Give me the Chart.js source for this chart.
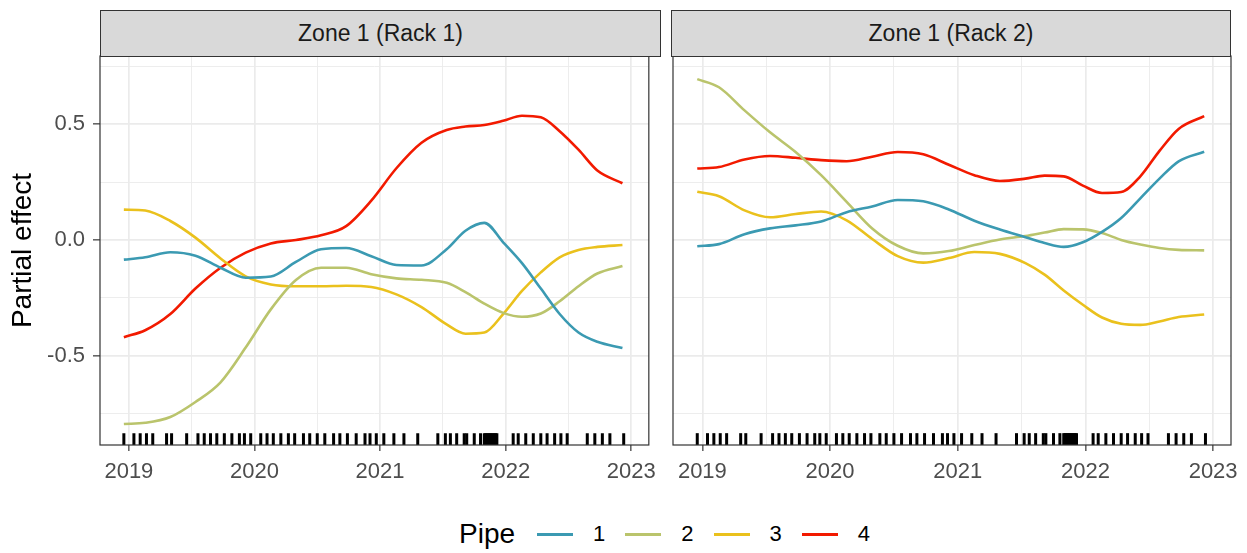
<!DOCTYPE html>
<html>
<head>
<meta charset="utf-8">
<title>Partial effect by pipe</title>
<script src="https://cdn.jsdelivr.net/npm/chart.js@4.4.1/dist/chart.umd.min.js"></script>
<style>
  body { margin: 0; background: #fff; font-family: "Liberation Sans", Arial, sans-serif; }
  #wrap { position: relative; width: 1247px; height: 553px; overflow: hidden; }
  canvas { position: absolute; top: 0; }
  .strip { position: absolute; top: 10px; height: 47px; box-sizing: border-box;
           background: #d9d9d9; border: 1.2px solid #333; color: #1a1a1a;
           font-size: 23px; line-height: 45px; text-align: center; }
  #legend { position: absolute; top: 513px; left: 459px; height: 42px;
            display: flex; align-items: center; color: #000; }
  #legend .title { font-size: 28px; margin-right: 22px; }
  #legend .key { width: 36px; height: 3px; margin-right: 20px; }
  #legend .lab { font-size: 22px; margin-right: 20px; }
</style>
</head>
<body>
<div id="wrap">
  <canvas id="rack1" width="664" height="500" style="left:0px;width:664px;height:500px"></canvas>
  <canvas id="rack2" width="583" height="500" style="left:664px;width:583px;height:500px"></canvas>
  <div class="strip" style="left:100px;width:561px">Zone 1 (Rack 1)</div>
  <div class="strip" style="left:671px;width:560px">Zone 1 (Rack 2)</div>
  <div id="legend"></div>
</div>

<script>
// decimal years for the smooth curves
var years = [2018.96, 2019.13, 2019.33, 2019.53, 2019.73, 2019.93, 2020.13, 2020.33,
             2020.53, 2020.73, 2020.93, 2021.13, 2021.33, 2021.53, 2021.68, 2021.83,
             2021.98, 2022.13, 2022.28, 2022.43, 2022.58, 2022.73, 2022.93];

// Zone 1 (Rack 1)
var rack1Pipe1 = [-0.085, -0.075, -0.053, -0.068, -0.12, -0.163, -0.158, -0.095, -0.04, -0.035, -0.07, -0.108,
                  -0.11, -0.04, 0.04, 0.074, -0.01, -0.10, -0.21, -0.32, -0.40, -0.44, -0.467];
var rack1Pipe2 = [-0.795, -0.79, -0.765, -0.70, -0.615, -0.465, -0.30, -0.173, -0.12, -0.12, -0.148, -0.166,
                  -0.172, -0.185, -0.225, -0.275, -0.315, -0.332, -0.318, -0.265, -0.20, -0.145, -0.113];
var rack1Pipe3 = [0.131, 0.127, 0.082, 0.01, -0.08, -0.157, -0.192, -0.2, -0.2, -0.198, -0.203, -0.235,
                  -0.29, -0.365, -0.405, -0.40, -0.32, -0.22, -0.14, -0.075, -0.043, -0.03, -0.022];
var rack1Pipe4 = [-0.42, -0.39, -0.32, -0.21, -0.12, -0.055, -0.015, 0.0, 0.02, 0.06, 0.17, 0.31,
                  0.42, 0.475, 0.49, 0.497, 0.515, 0.537, 0.53, 0.47, 0.39, 0.30, 0.245];

// Zone 1 (Rack 2)
var rack2Pipe1 = [-0.027, -0.018, 0.025, 0.05, 0.063, 0.08, 0.12, 0.145, 0.173, 0.167, 0.132, 0.083,
                  0.045, 0.012, -0.013, -0.03, -0.01, 0.035, 0.095, 0.18, 0.265, 0.34, 0.381];
var rack2Pipe2 = [0.695, 0.66, 0.56, 0.465, 0.38, 0.28, 0.165, 0.05, -0.025, -0.058, -0.048, -0.022,
                  0.002, 0.017, 0.032, 0.047, 0.046, 0.03, 0.0, -0.02, -0.035, -0.043, -0.045];
var rack2Pipe3 = [0.208, 0.189, 0.128, 0.098, 0.112, 0.123, 0.085, 0.004, -0.07, -0.098, -0.078, -0.052,
                  -0.06, -0.1, -0.15, -0.218, -0.28, -0.335, -0.362, -0.367, -0.352, -0.333, -0.322];
var rack2Pipe4 = [0.309, 0.315, 0.348, 0.363, 0.355, 0.345, 0.34, 0.36, 0.38, 0.37, 0.325, 0.28,
                  0.255, 0.265, 0.278, 0.275, 0.235, 0.203, 0.207, 0.275, 0.385, 0.48, 0.535];

// observation dates shown as the rug
var rugDates = [2018.96, 2019.04, 2019.09, 2019.14, 2019.19, 2019.30, 2019.34, 2019.46, 2019.55, 2019.60,
                2019.65, 2019.70, 2019.76, 2019.82, 2019.88, 2019.92, 2019.97, 2020.05, 2020.10, 2020.15,
                2020.21, 2020.27, 2020.32, 2020.39, 2020.44, 2020.50, 2020.56, 2020.63, 2020.68, 2020.74,
                2020.81, 2020.88, 2020.92, 2020.97, 2021.03, 2021.11, 2021.19, 2021.30, 2021.46, 2021.52,
                2021.56, 2021.61, 2021.67, 2021.69, 2021.75, 2021.80, 2021.83, 2021.84, 2021.85, 2021.86,
                2021.87, 2021.88, 2021.89, 2021.90, 2021.91, 2021.92, 2021.93, 2022.06, 2022.10, 2022.16,
                2022.22, 2022.28, 2022.33, 2022.39, 2022.44, 2022.49, 2022.65, 2022.71, 2022.77, 2022.83,
                2022.94];

var pipeNames = ['1', '2', '3', '4'];
var pipeColors = ['#3B9AB2', '#BAC46C', '#EAC11D', '#F21A00'];

var xTicks = [2019, 2019.5, 2020, 2020.5, 2021, 2021.5, 2022, 2022.5, 2023];
var yTicks = [-0.75, -0.5, -0.25, 0, 0.25, 0.5, 0.75];
var xMin = 2018.77, xMax = 2023.14;
var yMin = -0.886, yMax = 0.795;

function isMajorX(v) { return Math.abs(v - Math.round(v)) < 1e-6; }
function isMajorY(v) { return Math.abs(v * 2 - Math.round(v * 2)) < 1e-6; }

// ggplot-like panel border
var panelBorder = {
  id: 'panelBorder',
  afterDraw: function (chart) {
    var a = chart.chartArea, c = chart.ctx;
    c.save();
    c.strokeStyle = '#333333';
    c.lineWidth = 1.2;
    c.strokeRect(a.left, a.top, a.right - a.left, a.bottom - a.top);
    c.restore();
  }
};

function makePanel(id, series, showY, padRight) {
  var datasets = [];
  for (var i = 0; i < series.length; i++) {
    datasets.push({
      label: pipeNames[i],
      data: years.map(function (x, j) { return { x: x, y: series[i][j] }; }),
      borderColor: pipeColors[i],
      borderWidth: 2.6,
      pointRadius: 0,
      fill: false,
      cubicInterpolationMode: 'monotone'
    });
  }
  var rugY = yMin + 0.015 * (yMax - yMin);
  datasets.push({
    type: 'scatter',
    label: 'rug',
    data: rugDates.map(function (d) { return { x: d, y: rugY }; }),
    pointStyle: 'line',
    pointRotation: 90,
    pointRadius: 6,
    pointBorderWidth: 3,
    pointBorderColor: '#000000',
    pointBackgroundColor: '#000000'
  });

  var tickFont = { family: '"Liberation Sans", Arial, sans-serif', size: 22 };

  return new Chart(document.getElementById(id).getContext('2d'), {
    type: 'line',
    data: { datasets: datasets },
    options: {
      responsive: false,
      animation: false,
      layout: { padding: { top: 56, right: padRight, left: 0, bottom: 0 } },
      plugins: { legend: { display: false }, tooltip: { enabled: false } },
      scales: {
        x: {
          type: 'linear',
          min: xMin,
          max: xMax,
          afterBuildTicks: function (s) { s.ticks = xTicks.map(function (v) { return { value: v }; }); },
          afterFit: function (s) { s.height = 55; },
          border: { display: false },
          grid: {
            color: '#EBEBEB',
            lineWidth: function (c) { return isMajorX(c.tick.value) ? 1.7 : 0.9; },
            drawTicks: true,
            tickLength: 6,
            tickWidth: 1.2,
            tickColor: function (c) { return isMajorX(c.tick.value) ? '#333333' : 'rgba(0,0,0,0)'; }
          },
          ticks: {
            autoSkip: false,
            maxRotation: 0,
            padding: 8,
            color: '#4D4D4D',
            font: tickFont,
            callback: function (v) { return isMajorX(v) ? String(Math.round(v)) : ''; }
          }
        },
        y: {
          min: yMin,
          max: yMax,
          afterBuildTicks: function (s) { s.ticks = yTicks.map(function (v) { return { value: v }; }); },
          afterFit: function (s) { s.width = showY ? 100 : 7; },
          border: { display: false },
          title: {
            display: showY,
            text: 'Partial effect',
            color: '#000000',
            font: { family: '"Liberation Sans", Arial, sans-serif', size: 28 },
            padding: { top: 6, bottom: 0 }
          },
          grid: {
            color: '#EBEBEB',
            lineWidth: function (c) { return isMajorY(c.tick.value) ? 1.7 : 0.9; },
            drawTicks: showY,
            tickLength: 7,
            tickWidth: 1.2,
            tickColor: function (c) { return isMajorY(c.tick.value) ? '#333333' : 'rgba(0,0,0,0)'; }
          },
          ticks: {
            display: showY,
            autoSkip: false,
            padding: 8,
            color: '#4D4D4D',
            font: tickFont,
            callback: function (v) { return isMajorY(v) ? v.toFixed(1) : ''; }
          }
        }
      }
    },
    plugins: [panelBorder]
  });
}

makePanel('rack1', [rack1Pipe1, rack1Pipe2, rack1Pipe3, rack1Pipe4], true, 3);
makePanel('rack2', [rack2Pipe1, rack2Pipe2, rack2Pipe3, rack2Pipe4], false, 16);

// legend
var legendHTML = '<span class="title">Pipe</span>';
for (var i = 0; i < pipeNames.length; i++) {
  legendHTML += '<span class="key" style="background:' + pipeColors[i] + '"></span>' +
                '<span class="lab">' + pipeNames[i] + '</span>';
}
document.getElementById('legend').innerHTML = legendHTML;
</script>
</body>
</html>
